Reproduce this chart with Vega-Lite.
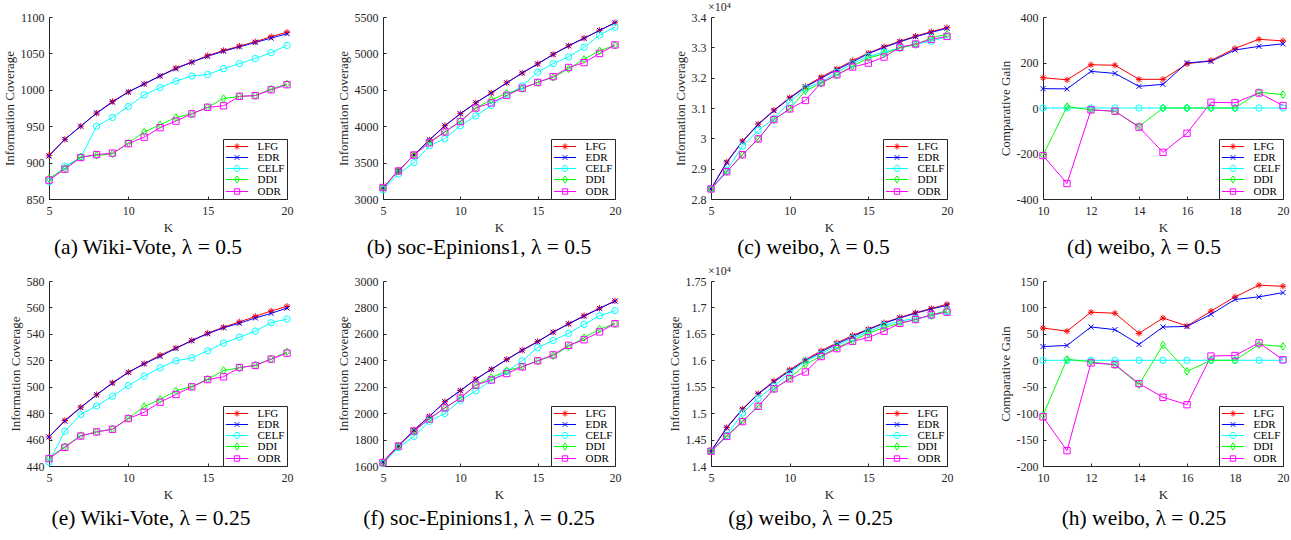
{
 "$schema": "https://vega.github.io/schema/vega-lite/v6.json",
 "background": "white",
 "padding": {"left": 3, "top": 1, "right": 1, "bottom": 2},
 "datasets": {
  "a": [
   {"K":5,"LFG":910,"EDR":909,"CELF":874,"DDI":878,"ODR":876},
   {"K":6,"LFG":932,"EDR":932,"CELF":895,"DDI":892,"ODR":891},
   {"K":7,"LFG":950,"EDR":950,"CELF":907,"DDI":908,"ODR":907},
   {"K":8,"LFG":968,"EDR":968,"CELF":950,"DDI":910,"ODR":911},
   {"K":9,"LFG":984,"EDR":983,"CELF":962,"DDI":912,"ODR":913},
   {"K":10,"LFG":997,"EDR":997,"CELF":977,"DDI":927,"ODR":926},
   {"K":11,"LFG":1008,"EDR":1008,"CELF":993,"DDI":942,"ODR":935},
   {"K":12,"LFG":1019,"EDR":1019,"CELF":1003,"DDI":952,"ODR":948},
   {"K":13,"LFG":1030,"EDR":1029,"CELF":1012,"DDI":962,"ODR":957},
   {"K":14,"LFG":1038,"EDR":1038,"CELF":1019,"DDI":967,"ODR":967},
   {"K":15,"LFG":1047,"EDR":1046,"CELF":1021,"DDI":976,"ODR":976},
   {"K":16,"LFG":1054,"EDR":1053,"CELF":1029,"DDI":988,"ODR":978},
   {"K":17,"LFG":1060,"EDR":1059,"CELF":1036,"DDI":991,"ODR":991},
   {"K":18,"LFG":1066,"EDR":1065,"CELF":1043,"DDI":992,"ODR":992},
   {"K":19,"LFG":1073,"EDR":1071,"CELF":1051,"DDI":1001,"ODR":1000},
   {"K":20,"LFG":1079,"EDR":1077,"CELF":1061,"DDI":1008,"ODR":1007}
  ],
  "b": [
   {"K":5,"LFG":3158,"EDR":3155,"CELF":3126,"DDI":3150,"ODR":3158},
   {"K":6,"LFG":3388,"EDR":3385,"CELF":3345,"DDI":3385,"ODR":3385},
   {"K":7,"LFG":3607,"EDR":3605,"CELF":3500,"DDI":3604,"ODR":3604},
   {"K":8,"LFG":3812,"EDR":3810,"CELF":3730,"DDI":3782,"ODR":3772},
   {"K":9,"LFG":4008,"EDR":4005,"CELF":3829,"DDI":3922,"ODR":3922},
   {"K":10,"LFG":4172,"EDR":4170,"CELF":4007,"DDI":4072,"ODR":4063},
   {"K":11,"LFG":4322,"EDR":4320,"CELF":4142,"DDI":4250,"ODR":4250},
   {"K":12,"LFG":4457,"EDR":4455,"CELF":4287,"DDI":4362,"ODR":4320},
   {"K":13,"LFG":4597,"EDR":4595,"CELF":4425,"DDI":4451,"ODR":4423},
   {"K":14,"LFG":4732,"EDR":4730,"CELF":4554,"DDI":4517,"ODR":4522},
   {"K":15,"LFG":4857,"EDR":4855,"CELF":4742,"DDI":4601,"ODR":4601},
   {"K":16,"LFG":4987,"EDR":4985,"CELF":4859,"DDI":4671,"ODR":4681},
   {"K":17,"LFG":5105,"EDR":5103,"CELF":4952,"DDI":4788,"ODR":4807},
   {"K":18,"LFG":5210,"EDR":5207,"CELF":5083,"DDI":4919,"ODR":4873},
   {"K":19,"LFG":5317,"EDR":5315,"CELF":5252,"DDI":5036,"ODR":4999},
   {"K":20,"LFG":5422,"EDR":5420,"CELF":5360,"DDI":5112,"ODR":5116}
  ],
  "c": [
   {"K":5,"LFG":28330,"EDR":28330,"CELF":28330,"DDI":28330,"ODR":28330},
   {"K":6,"LFG":29220,"EDR":29200,"CELF":28950,"DDI":28900,"ODR":28900},
   {"K":7,"LFG":29910,"EDR":29890,"CELF":29740,"DDI":29460,"ODR":29460},
   {"K":8,"LFG":30470,"EDR":30455,"CELF":30260,"DDI":29980,"ODR":29980},
   {"K":9,"LFG":30930,"EDR":30910,"CELF":30650,"DDI":30610,"ODR":30620},
   {"K":10,"LFG":31340,"EDR":31320,"CELF":31190,"DDI":30970,"ODR":30970},
   {"K":11,"LFG":31710,"EDR":31690,"CELF":31655,"DDI":31570,"ODR":31248},
   {"K":12,"LFG":32020,"EDR":31980,"CELF":31850,"DDI":31810,"ODR":31830},
   {"K":13,"LFG":32290,"EDR":32260,"CELF":32180,"DDI":32095,"ODR":32095},
   {"K":14,"LFG":32560,"EDR":32520,"CELF":32460,"DDI":32380,"ODR":32350},
   {"K":15,"LFG":32810,"EDR":32790,"CELF":32700,"DDI":32646,"ODR":32480},
   {"K":16,"LFG":33020,"EDR":33000,"CELF":32840,"DDI":32790,"ODR":32680},
   {"K":17,"LFG":33200,"EDR":33180,"CELF":32976,"DDI":32980,"ODR":33000},
   {"K":18,"LFG":33370,"EDR":33350,"CELF":33110,"DDI":33086,"ODR":33110},
   {"K":19,"LFG":33516,"EDR":33490,"CELF":33196,"DDI":33317,"ODR":33260},
   {"K":20,"LFG":33650,"EDR":33630,"CELF":33360,"DDI":33427,"ODR":33360}
  ],
  "d": [
   {"K":10,"LFG":133,"EDR":85,"CELF":0,"DDI":-208,"ODR":-209},
   {"K":11,"LFG":124,"EDR":84,"CELF":0,"DDI":6,"ODR":-332},
   {"K":12,"LFG":190,"EDR":161,"CELF":0,"DDI":-8,"ODR":-8},
   {"K":13,"LFG":188,"EDR":152,"CELF":0,"DDI":-15,"ODR":-14},
   {"K":14,"LFG":126,"EDR":95,"CELF":0,"DDI":-81,"ODR":-84},
   {"K":15,"LFG":126,"EDR":104,"CELF":0,"DDI":0,"ODR":-195},
   {"K":16,"LFG":194,"EDR":199,"CELF":0,"DDI":0,"ODR":-111},
   {"K":17,"LFG":209,"EDR":205,"CELF":0,"DDI":0,"ODR":25},
   {"K":18,"LFG":262,"EDR":255,"CELF":0,"DDI":0,"ODR":23},
   {"K":19,"LFG":302,"EDR":271,"CELF":0,"DDI":69,"ODR":66},
   {"K":20,"LFG":295,"EDR":282,"CELF":0,"DDI":59,"ODR":11}
  ],
  "e": [
   {"K":5,"LFG":462,"EDR":462,"CELF":443,"DDI":446,"ODR":445.6},
   {"K":6,"LFG":474.5,"EDR":474,"CELF":466.3,"DDI":454.7,"ODR":454.1},
   {"K":7,"LFG":484.5,"EDR":484.2,"CELF":479,"DDI":463,"ODR":462.7},
   {"K":8,"LFG":494,"EDR":493.8,"CELF":485.5,"DDI":465.8,"ODR":465.8},
   {"K":9,"LFG":503,"EDR":502.7,"CELF":492.8,"DDI":468,"ODR":467.8},
   {"K":10,"LFG":511,"EDR":510.8,"CELF":500.9,"DDI":476.1,"ODR":475.9},
   {"K":11,"LFG":517.5,"EDR":517.3,"CELF":508,"DDI":485,"ODR":480.7},
   {"K":12,"LFG":523.8,"EDR":523,"CELF":514.3,"DDI":490.3,"ODR":488.3},
   {"K":13,"LFG":529.3,"EDR":529,"CELF":519.6,"DDI":496.9,"ODR":494.1},
   {"K":14,"LFG":535,"EDR":534.8,"CELF":521.9,"DDI":500.1,"ODR":499.9},
   {"K":15,"LFG":540.5,"EDR":540.1,"CELF":527.2,"DDI":505.7,"ODR":505.4},
   {"K":16,"LFG":545,"EDR":544.6,"CELF":533,"DDI":512.3,"ODR":507.5},
   {"K":17,"LFG":549,"EDR":548,"CELF":537.5,"DDI":514.3,"ODR":514.5},
   {"K":18,"LFG":553.2,"EDR":552,"CELF":542.1,"DDI":516.3,"ODR":516.1},
   {"K":19,"LFG":557.3,"EDR":555.5,"CELF":548.4,"DDI":520.9,"ODR":520.9},
   {"K":20,"LFG":560.8,"EDR":559.5,"CELF":551.2,"DDI":526.4,"ODR":525.4}
  ],
  "f": [
   {"K":5,"LFG":1632,"EDR":1630,"CELF":1618,"DDI":1626,"ODR":1626},
   {"K":6,"LFG":1755,"EDR":1754,"CELF":1738,"DDI":1748,"ODR":1751},
   {"K":7,"LFG":1872,"EDR":1871,"CELF":1824,"DDI":1860,"ODR":1865},
   {"K":8,"LFG":1976,"EDR":1975,"CELF":1938,"DDI":1959,"ODR":1956},
   {"K":9,"LFG":2087,"EDR":2085,"CELF":1998,"DDI":2040,"ODR":2040},
   {"K":10,"LFG":2171,"EDR":2170,"CELF":2097,"DDI":2113,"ODR":2115},
   {"K":11,"LFG":2257,"EDR":2256,"CELF":2168,"DDI":2212,"ODR":2212},
   {"K":12,"LFG":2332,"EDR":2331,"CELF":2248,"DDI":2269,"ODR":2251},
   {"K":13,"LFG":2407,"EDR":2405,"CELF":2316,"DDI":2321,"ODR":2300},
   {"K":14,"LFG":2477,"EDR":2475,"CELF":2396,"DDI":2352,"ODR":2350},
   {"K":15,"LFG":2542,"EDR":2540,"CELF":2495,"DDI":2396,"ODR":2396},
   {"K":16,"LFG":2613,"EDR":2612,"CELF":2550,"DDI":2435,"ODR":2441},
   {"K":17,"LFG":2677,"EDR":2675,"CELF":2604,"DDI":2505,"ODR":2513},
   {"K":18,"LFG":2738,"EDR":2733,"CELF":2672,"DDI":2571,"ODR":2555},
   {"K":19,"LFG":2794,"EDR":2792,"CELF":2737,"DDI":2635,"ODR":2615},
   {"K":20,"LFG":2850,"EDR":2848,"CELF":2775,"DDI":2677,"ODR":2677}
  ],
  "g": [
   {"K":5,"LFG":14280,"EDR":14280,"CELF":14280,"DDI":14280,"ODR":14280},
   {"K":6,"LFG":14730,"EDR":14720,"CELF":14580,"DDI":14570,"ODR":14560},
   {"K":7,"LFG":15080,"EDR":15070,"CELF":15000,"DDI":14850,"ODR":14840},
   {"K":8,"LFG":15370,"EDR":15360,"CELF":15280,"DDI":15130,"ODR":15130},
   {"K":9,"LFG":15610,"EDR":15590,"CELF":15510,"DDI":15460,"ODR":15460},
   {"K":10,"LFG":15820,"EDR":15800,"CELF":15760,"DDI":15660,"ODR":15650},
   {"K":11,"LFG":16010,"EDR":15990,"CELF":15990,"DDI":15920,"ODR":15780},
   {"K":12,"LFG":16180,"EDR":16160,"CELF":16120,"DDI":16080,"ODR":16070},
   {"K":13,"LFG":16330,"EDR":16310,"CELF":16280,"DDI":16240,"ODR":16220},
   {"K":14,"LFG":16470,"EDR":16450,"CELF":16420,"DDI":16370,"ODR":16360},
   {"K":15,"LFG":16590,"EDR":16580,"CELF":16540,"DDI":16510,"ODR":16430},
   {"K":16,"LFG":16710,"EDR":16700,"CELF":16660,"DDI":16620,"ODR":16550},
   {"K":17,"LFG":16810,"EDR":16800,"CELF":16740,"DDI":16700,"ODR":16700},
   {"K":18,"LFG":16900,"EDR":16890,"CELF":16790,"DDI":16770,"ODR":16770},
   {"K":19,"LFG":16980,"EDR":16970,"CELF":16840,"DDI":16860,"ODR":16860},
   {"K":20,"LFG":17060,"EDR":17040,"CELF":16920,"DDI":16940,"ODR":16910}
  ],
  "h": [
   {"K":10,"LFG":61,"EDR":26,"CELF":0,"DDI":-104,"ODR":-107},
   {"K":11,"LFG":55,"EDR":28,"CELF":0,"DDI":2,"ODR":-171},
   {"K":12,"LFG":91,"EDR":63,"CELF":0,"DDI":-3,"ODR":-5},
   {"K":13,"LFG":89,"EDR":58,"CELF":0,"DDI":-9,"ODR":-8},
   {"K":14,"LFG":51,"EDR":30,"CELF":0,"DDI":-46,"ODR":-44},
   {"K":15,"LFG":80,"EDR":63,"CELF":0,"DDI":29,"ODR":-70},
   {"K":16,"LFG":65,"EDR":64,"CELF":0,"DDI":-21,"ODR":-84},
   {"K":17,"LFG":93,"EDR":87,"CELF":0,"DDI":0,"ODR":8},
   {"K":18,"LFG":120,"EDR":115,"CELF":0,"DDI":0,"ODR":9},
   {"K":19,"LFG":142,"EDR":120,"CELF":0,"DDI":30,"ODR":33},
   {"K":20,"LFG":140,"EDR":128,"CELF":0,"DDI":26,"ODR":1}
  ]
 },
 "columns": 4,
 "spacing": {"row": 82, "column": 96},
 "bounds": "flush",
 "resolve": {"scale": {"color": "independent"}, "legend": {"color": "independent"}},
 "concat": [
  {
   "width": 238, "height": 182,
   "data": {"name": "a"},
   "transform": [{"fold": ["LFG","EDR","CELF","DDI","ODR"], "as": ["series","value"]}],
   "title": {"text": "(a) Wiki-Vote, λ = 0.5", "offset": 3},
   "encoding": {
    "x": {"field": "K", "type": "quantitative", "scale": {"domain": [5,20], "nice": false}, "axis": {"values": [5,10,15,20], "title": "K"}},
    "y": {"field": "value", "type": "quantitative", "scale": {"domain": [850,1100], "nice": false, "zero": false}, "axis": {"values": [850,900,950,1000,1050,1100], "format": "d", "title": "Information Coverage"}},
    "color": {"field": "series", "type": "nominal", "scale": {"domain": ["LFG","EDR","CELF","DDI","ODR"], "range": ["#ff0000","#0000ff","#00ffff","#00ff00","#ff00ff"]}, "legend": {"title": null, "encode": {"symbols": {"update": {"shape": [{"test": "datum.value === 'LFG'", "value": "M-3.7,0L3.7,0M-1,0L1,0M0,-1L0,1M-0.7,-0.7L0.7,0.7M-0.7,0.7L0.7,-0.7"}, {"test": "datum.value === 'EDR'", "value": "M-3.7,0L3.7,0M-0.8,-0.8L0.8,0.8M-0.8,0.8L0.8,-0.8"}, {"test": "datum.value === 'CELF'", "value": "M-3.7,0L3.7,0M1,0A1,1,0,1,1,-1,0A1,1,0,1,1,1,0"}, {"test": "datum.value === 'DDI'", "value": "M-3.7,0L3.7,0M0,-1.2L0.8,0L0,1.2L-0.8,0Z"}, {"value": "M-3.7,0L3.7,0M-0.9,-0.9L0.9,-0.9L0.9,0.9L-0.9,0.9Z"}], "fill": {"value": "transparent"}}}}}}
   },
   "layer": [
    {"mark": {"type": "line", "strokeWidth": 1}},
    {"transform": [{"filter": "datum.series === 'LFG'"}], "mark": {"type": "point", "shape": "M-1,0L1,0M0,-1L0,1M-0.7,-0.7L0.7,0.7M-0.7,0.7L0.7,-0.7", "filled": false, "size": 40, "strokeWidth": 1, "opacity": 1}},
    {"transform": [{"filter": "datum.series === 'EDR'"}], "mark": {"type": "point", "shape": "M-0.8,-0.8L0.8,0.8M-0.8,0.8L0.8,-0.8", "filled": false, "size": 40, "strokeWidth": 1, "opacity": 1}},
    {"transform": [{"filter": "datum.series === 'CELF'"}], "mark": {"type": "point", "shape": "circle", "filled": false, "size": 40, "strokeWidth": 1, "opacity": 1}},
    {"transform": [{"filter": "datum.series === 'DDI'"}], "mark": {"type": "point", "shape": "M0,-1.2L0.8,0L0,1.2L-0.8,0Z", "filled": false, "size": 40, "strokeWidth": 1, "opacity": 1}},
    {"transform": [{"filter": "datum.series === 'ODR'"}], "mark": {"type": "point", "shape": "square", "filled": false, "size": 40, "strokeWidth": 1, "opacity": 1}}
   ]
  },
  {
   "width": 232, "height": 182,
   "data": {"name": "b"},
   "transform": [{"fold": ["LFG","EDR","CELF","DDI","ODR"], "as": ["series","value"]}],
   "title": {"text": "(b) soc-Epinions1, λ = 0.5", "offset": 3},
   "encoding": {
    "x": {"field": "K", "type": "quantitative", "scale": {"domain": [5,20], "nice": false}, "axis": {"values": [5,10,15,20], "title": "K"}},
    "y": {"field": "value", "type": "quantitative", "scale": {"domain": [3000,5500], "nice": false, "zero": false}, "axis": {"values": [3000,3500,4000,4500,5000,5500], "format": "d", "title": "Information Coverage"}},
    "color": {"field": "series", "type": "nominal", "scale": {"domain": ["LFG","EDR","CELF","DDI","ODR"], "range": ["#ff0000","#0000ff","#00ffff","#00ff00","#ff00ff"]}, "legend": {"title": null, "encode": {"symbols": {"update": {"shape": [{"test": "datum.value === 'LFG'", "value": "M-3.7,0L3.7,0M-1,0L1,0M0,-1L0,1M-0.7,-0.7L0.7,0.7M-0.7,0.7L0.7,-0.7"}, {"test": "datum.value === 'EDR'", "value": "M-3.7,0L3.7,0M-0.8,-0.8L0.8,0.8M-0.8,0.8L0.8,-0.8"}, {"test": "datum.value === 'CELF'", "value": "M-3.7,0L3.7,0M1,0A1,1,0,1,1,-1,0A1,1,0,1,1,1,0"}, {"test": "datum.value === 'DDI'", "value": "M-3.7,0L3.7,0M0,-1.2L0.8,0L0,1.2L-0.8,0Z"}, {"value": "M-3.7,0L3.7,0M-0.9,-0.9L0.9,-0.9L0.9,0.9L-0.9,0.9Z"}], "fill": {"value": "transparent"}}}}}}
   },
   "layer": [
    {"mark": {"type": "line", "strokeWidth": 1}},
    {"transform": [{"filter": "datum.series === 'LFG'"}], "mark": {"type": "point", "shape": "M-1,0L1,0M0,-1L0,1M-0.7,-0.7L0.7,0.7M-0.7,0.7L0.7,-0.7", "filled": false, "size": 40, "strokeWidth": 1, "opacity": 1}},
    {"transform": [{"filter": "datum.series === 'EDR'"}], "mark": {"type": "point", "shape": "M-0.8,-0.8L0.8,0.8M-0.8,0.8L0.8,-0.8", "filled": false, "size": 40, "strokeWidth": 1, "opacity": 1}},
    {"transform": [{"filter": "datum.series === 'CELF'"}], "mark": {"type": "point", "shape": "circle", "filled": false, "size": 40, "strokeWidth": 1, "opacity": 1}},
    {"transform": [{"filter": "datum.series === 'DDI'"}], "mark": {"type": "point", "shape": "M0,-1.2L0.8,0L0,1.2L-0.8,0Z", "filled": false, "size": 40, "strokeWidth": 1, "opacity": 1}},
    {"transform": [{"filter": "datum.series === 'ODR'"}], "mark": {"type": "point", "shape": "square", "filled": false, "size": 40, "strokeWidth": 1, "opacity": 1}}
   ]
  },
  {
   "width": 236, "height": 182,
   "data": {"name": "c"},
   "transform": [{"fold": ["LFG","EDR","CELF","DDI","ODR"], "as": ["series","value"]}],
   "title": {"text": "(c) weibo, λ = 0.5", "offset": 3},
   "encoding": {
    "x": {"field": "K", "type": "quantitative", "scale": {"domain": [5,20], "nice": false}, "axis": {"values": [5,10,15,20], "title": "K"}},
    "y": {"field": "value", "type": "quantitative", "scale": {"domain": [28000,34000], "nice": false, "zero": false}, "axis": {"values": [28000,29000,30000,31000,32000,33000,34000], "labelExpr": "format(datum.value/10000, '.2~f')", "title": "Information Coverage"}},
    "color": {"field": "series", "type": "nominal", "scale": {"domain": ["LFG","EDR","CELF","DDI","ODR"], "range": ["#ff0000","#0000ff","#00ffff","#00ff00","#ff00ff"]}, "legend": {"title": null, "encode": {"symbols": {"update": {"shape": [{"test": "datum.value === 'LFG'", "value": "M-3.7,0L3.7,0M-1,0L1,0M0,-1L0,1M-0.7,-0.7L0.7,0.7M-0.7,0.7L0.7,-0.7"}, {"test": "datum.value === 'EDR'", "value": "M-3.7,0L3.7,0M-0.8,-0.8L0.8,0.8M-0.8,0.8L0.8,-0.8"}, {"test": "datum.value === 'CELF'", "value": "M-3.7,0L3.7,0M1,0A1,1,0,1,1,-1,0A1,1,0,1,1,1,0"}, {"test": "datum.value === 'DDI'", "value": "M-3.7,0L3.7,0M0,-1.2L0.8,0L0,1.2L-0.8,0Z"}, {"value": "M-3.7,0L3.7,0M-0.9,-0.9L0.9,-0.9L0.9,0.9L-0.9,0.9Z"}], "fill": {"value": "transparent"}}}}}}
   },
   "layer": [
    {"mark": {"type": "line", "strokeWidth": 1}},
    {"transform": [{"filter": "datum.series === 'LFG'"}], "mark": {"type": "point", "shape": "M-1,0L1,0M0,-1L0,1M-0.7,-0.7L0.7,0.7M-0.7,0.7L0.7,-0.7", "filled": false, "size": 40, "strokeWidth": 1, "opacity": 1}},
    {"transform": [{"filter": "datum.series === 'EDR'"}], "mark": {"type": "point", "shape": "M-0.8,-0.8L0.8,0.8M-0.8,0.8L0.8,-0.8", "filled": false, "size": 40, "strokeWidth": 1, "opacity": 1}},
    {"transform": [{"filter": "datum.series === 'CELF'"}], "mark": {"type": "point", "shape": "circle", "filled": false, "size": 40, "strokeWidth": 1, "opacity": 1}},
    {"transform": [{"filter": "datum.series === 'DDI'"}], "mark": {"type": "point", "shape": "M0,-1.2L0.8,0L0,1.2L-0.8,0Z", "filled": false, "size": 40, "strokeWidth": 1, "opacity": 1}},
    {"transform": [{"filter": "datum.series === 'ODR'"}], "mark": {"type": "point", "shape": "square", "filled": false, "size": 40, "strokeWidth": 1, "opacity": 1}},
    {"transform": [{"filter": "datum.K === 5 && datum.series === 'LFG'"}], "mark": {"type": "text", "align": "left", "baseline": "bottom", "dx": -3, "dy": -3, "font": "Liberation Serif", "fontSize": 12}, "encoding": {"x": {"datum": 5, "type": "quantitative"}, "y": {"datum": 34000, "type": "quantitative"}, "text": {"value": "×10⁴"}, "color": {"value": "#262626"}}}
   ]
  },
  {
   "width": 240, "height": 182,
   "data": {"name": "d"},
   "transform": [{"fold": ["LFG","EDR","CELF","DDI","ODR"], "as": ["series","value"]}],
   "title": {"text": "(d) weibo, λ = 0.5", "offset": 3},
   "encoding": {
    "x": {"field": "K", "type": "quantitative", "scale": {"domain": [10,20], "nice": false}, "axis": {"values": [10,12,14,16,18,20], "title": "K"}},
    "y": {"field": "value", "type": "quantitative", "scale": {"domain": [-400,400], "nice": false, "zero": false}, "axis": {"values": [-400,-200,0,200,400], "labelExpr": "'' + datum.value", "title": "Comparative Gain"}},
    "color": {"field": "series", "type": "nominal", "scale": {"domain": ["LFG","EDR","CELF","DDI","ODR"], "range": ["#ff0000","#0000ff","#00ffff","#00ff00","#ff00ff"]}, "legend": {"title": null, "encode": {"symbols": {"update": {"shape": [{"test": "datum.value === 'LFG'", "value": "M-3.7,0L3.7,0M-1,0L1,0M0,-1L0,1M-0.7,-0.7L0.7,0.7M-0.7,0.7L0.7,-0.7"}, {"test": "datum.value === 'EDR'", "value": "M-3.7,0L3.7,0M-0.8,-0.8L0.8,0.8M-0.8,0.8L0.8,-0.8"}, {"test": "datum.value === 'CELF'", "value": "M-3.7,0L3.7,0M1,0A1,1,0,1,1,-1,0A1,1,0,1,1,1,0"}, {"test": "datum.value === 'DDI'", "value": "M-3.7,0L3.7,0M0,-1.2L0.8,0L0,1.2L-0.8,0Z"}, {"value": "M-3.7,0L3.7,0M-0.9,-0.9L0.9,-0.9L0.9,0.9L-0.9,0.9Z"}], "fill": {"value": "transparent"}}}}}}
   },
   "layer": [
    {"mark": {"type": "line", "strokeWidth": 1}},
    {"transform": [{"filter": "datum.series === 'LFG'"}], "mark": {"type": "point", "shape": "M-1,0L1,0M0,-1L0,1M-0.7,-0.7L0.7,0.7M-0.7,0.7L0.7,-0.7", "filled": false, "size": 40, "strokeWidth": 1, "opacity": 1}},
    {"transform": [{"filter": "datum.series === 'EDR'"}], "mark": {"type": "point", "shape": "M-0.8,-0.8L0.8,0.8M-0.8,0.8L0.8,-0.8", "filled": false, "size": 40, "strokeWidth": 1, "opacity": 1}},
    {"transform": [{"filter": "datum.series === 'CELF'"}], "mark": {"type": "point", "shape": "circle", "filled": false, "size": 40, "strokeWidth": 1, "opacity": 1}},
    {"transform": [{"filter": "datum.series === 'DDI'"}], "mark": {"type": "point", "shape": "M0,-1.2L0.8,0L0,1.2L-0.8,0Z", "filled": false, "size": 40, "strokeWidth": 1, "opacity": 1}},
    {"transform": [{"filter": "datum.series === 'ODR'"}], "mark": {"type": "point", "shape": "square", "filled": false, "size": 40, "strokeWidth": 1, "opacity": 1}}
   ]
  },
  {
   "width": 238, "height": 185,
   "data": {"name": "e"},
   "transform": [{"fold": ["LFG","EDR","CELF","DDI","ODR"], "as": ["series","value"]}],
   "title": {"text": "(e) Wiki-Vote, λ = 0.25", "offset": 7},
   "encoding": {
    "x": {"field": "K", "type": "quantitative", "scale": {"domain": [5,20], "nice": false}, "axis": {"values": [5,10,15,20], "title": "K"}},
    "y": {"field": "value", "type": "quantitative", "scale": {"domain": [440,580], "nice": false, "zero": false}, "axis": {"values": [440,460,480,500,520,540,560,580], "format": "d", "title": "Information Coverage"}},
    "color": {"field": "series", "type": "nominal", "scale": {"domain": ["LFG","EDR","CELF","DDI","ODR"], "range": ["#ff0000","#0000ff","#00ffff","#00ff00","#ff00ff"]}, "legend": {"title": null, "encode": {"symbols": {"update": {"shape": [{"test": "datum.value === 'LFG'", "value": "M-3.7,0L3.7,0M-1,0L1,0M0,-1L0,1M-0.7,-0.7L0.7,0.7M-0.7,0.7L0.7,-0.7"}, {"test": "datum.value === 'EDR'", "value": "M-3.7,0L3.7,0M-0.8,-0.8L0.8,0.8M-0.8,0.8L0.8,-0.8"}, {"test": "datum.value === 'CELF'", "value": "M-3.7,0L3.7,0M1,0A1,1,0,1,1,-1,0A1,1,0,1,1,1,0"}, {"test": "datum.value === 'DDI'", "value": "M-3.7,0L3.7,0M0,-1.2L0.8,0L0,1.2L-0.8,0Z"}, {"value": "M-3.7,0L3.7,0M-0.9,-0.9L0.9,-0.9L0.9,0.9L-0.9,0.9Z"}], "fill": {"value": "transparent"}}}}}}
   },
   "layer": [
    {"mark": {"type": "line", "strokeWidth": 1}},
    {"transform": [{"filter": "datum.series === 'LFG'"}], "mark": {"type": "point", "shape": "M-1,0L1,0M0,-1L0,1M-0.7,-0.7L0.7,0.7M-0.7,0.7L0.7,-0.7", "filled": false, "size": 40, "strokeWidth": 1, "opacity": 1}},
    {"transform": [{"filter": "datum.series === 'EDR'"}], "mark": {"type": "point", "shape": "M-0.8,-0.8L0.8,0.8M-0.8,0.8L0.8,-0.8", "filled": false, "size": 40, "strokeWidth": 1, "opacity": 1}},
    {"transform": [{"filter": "datum.series === 'CELF'"}], "mark": {"type": "point", "shape": "circle", "filled": false, "size": 40, "strokeWidth": 1, "opacity": 1}},
    {"transform": [{"filter": "datum.series === 'DDI'"}], "mark": {"type": "point", "shape": "M0,-1.2L0.8,0L0,1.2L-0.8,0Z", "filled": false, "size": 40, "strokeWidth": 1, "opacity": 1}},
    {"transform": [{"filter": "datum.series === 'ODR'"}], "mark": {"type": "point", "shape": "square", "filled": false, "size": 40, "strokeWidth": 1, "opacity": 1}}
   ]
  },
  {
   "width": 232, "height": 185,
   "data": {"name": "f"},
   "transform": [{"fold": ["LFG","EDR","CELF","DDI","ODR"], "as": ["series","value"]}],
   "title": {"text": "(f) soc-Epinions1, λ = 0.25", "offset": 7},
   "encoding": {
    "x": {"field": "K", "type": "quantitative", "scale": {"domain": [5,20], "nice": false}, "axis": {"values": [5,10,15,20], "title": "K"}},
    "y": {"field": "value", "type": "quantitative", "scale": {"domain": [1600,3000], "nice": false, "zero": false}, "axis": {"values": [1600,1800,2000,2200,2400,2600,2800,3000], "format": "d", "title": "Information Coverage"}},
    "color": {"field": "series", "type": "nominal", "scale": {"domain": ["LFG","EDR","CELF","DDI","ODR"], "range": ["#ff0000","#0000ff","#00ffff","#00ff00","#ff00ff"]}, "legend": {"title": null, "encode": {"symbols": {"update": {"shape": [{"test": "datum.value === 'LFG'", "value": "M-3.7,0L3.7,0M-1,0L1,0M0,-1L0,1M-0.7,-0.7L0.7,0.7M-0.7,0.7L0.7,-0.7"}, {"test": "datum.value === 'EDR'", "value": "M-3.7,0L3.7,0M-0.8,-0.8L0.8,0.8M-0.8,0.8L0.8,-0.8"}, {"test": "datum.value === 'CELF'", "value": "M-3.7,0L3.7,0M1,0A1,1,0,1,1,-1,0A1,1,0,1,1,1,0"}, {"test": "datum.value === 'DDI'", "value": "M-3.7,0L3.7,0M0,-1.2L0.8,0L0,1.2L-0.8,0Z"}, {"value": "M-3.7,0L3.7,0M-0.9,-0.9L0.9,-0.9L0.9,0.9L-0.9,0.9Z"}], "fill": {"value": "transparent"}}}}}}
   },
   "layer": [
    {"mark": {"type": "line", "strokeWidth": 1}},
    {"transform": [{"filter": "datum.series === 'LFG'"}], "mark": {"type": "point", "shape": "M-1,0L1,0M0,-1L0,1M-0.7,-0.7L0.7,0.7M-0.7,0.7L0.7,-0.7", "filled": false, "size": 40, "strokeWidth": 1, "opacity": 1}},
    {"transform": [{"filter": "datum.series === 'EDR'"}], "mark": {"type": "point", "shape": "M-0.8,-0.8L0.8,0.8M-0.8,0.8L0.8,-0.8", "filled": false, "size": 40, "strokeWidth": 1, "opacity": 1}},
    {"transform": [{"filter": "datum.series === 'CELF'"}], "mark": {"type": "point", "shape": "circle", "filled": false, "size": 40, "strokeWidth": 1, "opacity": 1}},
    {"transform": [{"filter": "datum.series === 'DDI'"}], "mark": {"type": "point", "shape": "M0,-1.2L0.8,0L0,1.2L-0.8,0Z", "filled": false, "size": 40, "strokeWidth": 1, "opacity": 1}},
    {"transform": [{"filter": "datum.series === 'ODR'"}], "mark": {"type": "point", "shape": "square", "filled": false, "size": 40, "strokeWidth": 1, "opacity": 1}}
   ]
  },
  {
   "width": 236, "height": 185,
   "data": {"name": "g"},
   "transform": [{"fold": ["LFG","EDR","CELF","DDI","ODR"], "as": ["series","value"]}],
   "title": {"text": "(g) weibo, λ = 0.25", "offset": 7},
   "encoding": {
    "x": {"field": "K", "type": "quantitative", "scale": {"domain": [5,20], "nice": false}, "axis": {"values": [5,10,15,20], "title": "K"}},
    "y": {"field": "value", "type": "quantitative", "scale": {"domain": [14000,17500], "nice": false, "zero": false}, "axis": {"values": [14000,14500,15000,15500,16000,16500,17000,17500], "labelExpr": "format(datum.value/10000, '.2~f')", "title": "Information Coverage"}},
    "color": {"field": "series", "type": "nominal", "scale": {"domain": ["LFG","EDR","CELF","DDI","ODR"], "range": ["#ff0000","#0000ff","#00ffff","#00ff00","#ff00ff"]}, "legend": {"title": null, "encode": {"symbols": {"update": {"shape": [{"test": "datum.value === 'LFG'", "value": "M-3.7,0L3.7,0M-1,0L1,0M0,-1L0,1M-0.7,-0.7L0.7,0.7M-0.7,0.7L0.7,-0.7"}, {"test": "datum.value === 'EDR'", "value": "M-3.7,0L3.7,0M-0.8,-0.8L0.8,0.8M-0.8,0.8L0.8,-0.8"}, {"test": "datum.value === 'CELF'", "value": "M-3.7,0L3.7,0M1,0A1,1,0,1,1,-1,0A1,1,0,1,1,1,0"}, {"test": "datum.value === 'DDI'", "value": "M-3.7,0L3.7,0M0,-1.2L0.8,0L0,1.2L-0.8,0Z"}, {"value": "M-3.7,0L3.7,0M-0.9,-0.9L0.9,-0.9L0.9,0.9L-0.9,0.9Z"}], "fill": {"value": "transparent"}}}}}}
   },
   "layer": [
    {"mark": {"type": "line", "strokeWidth": 1}},
    {"transform": [{"filter": "datum.series === 'LFG'"}], "mark": {"type": "point", "shape": "M-1,0L1,0M0,-1L0,1M-0.7,-0.7L0.7,0.7M-0.7,0.7L0.7,-0.7", "filled": false, "size": 40, "strokeWidth": 1, "opacity": 1}},
    {"transform": [{"filter": "datum.series === 'EDR'"}], "mark": {"type": "point", "shape": "M-0.8,-0.8L0.8,0.8M-0.8,0.8L0.8,-0.8", "filled": false, "size": 40, "strokeWidth": 1, "opacity": 1}},
    {"transform": [{"filter": "datum.series === 'CELF'"}], "mark": {"type": "point", "shape": "circle", "filled": false, "size": 40, "strokeWidth": 1, "opacity": 1}},
    {"transform": [{"filter": "datum.series === 'DDI'"}], "mark": {"type": "point", "shape": "M0,-1.2L0.8,0L0,1.2L-0.8,0Z", "filled": false, "size": 40, "strokeWidth": 1, "opacity": 1}},
    {"transform": [{"filter": "datum.series === 'ODR'"}], "mark": {"type": "point", "shape": "square", "filled": false, "size": 40, "strokeWidth": 1, "opacity": 1}},
    {"transform": [{"filter": "datum.K === 5 && datum.series === 'LFG'"}], "mark": {"type": "text", "align": "left", "baseline": "bottom", "dx": -3, "dy": -3, "font": "Liberation Serif", "fontSize": 12}, "encoding": {"x": {"datum": 5, "type": "quantitative"}, "y": {"datum": 17500, "type": "quantitative"}, "text": {"value": "×10⁴"}, "color": {"value": "#262626"}}}
   ]
  },
  {
   "width": 240, "height": 185,
   "data": {"name": "h"},
   "transform": [{"fold": ["LFG","EDR","CELF","DDI","ODR"], "as": ["series","value"]}],
   "title": {"text": "(h) weibo, λ = 0.25", "offset": 7},
   "encoding": {
    "x": {"field": "K", "type": "quantitative", "scale": {"domain": [10,20], "nice": false}, "axis": {"values": [10,12,14,16,18,20], "title": "K"}},
    "y": {"field": "value", "type": "quantitative", "scale": {"domain": [-200,150], "nice": false, "zero": false}, "axis": {"values": [-200,-150,-100,-50,0,50,100,150], "labelExpr": "'' + datum.value", "title": "Comparative Gain"}},
    "color": {"field": "series", "type": "nominal", "scale": {"domain": ["LFG","EDR","CELF","DDI","ODR"], "range": ["#ff0000","#0000ff","#00ffff","#00ff00","#ff00ff"]}, "legend": {"title": null, "encode": {"symbols": {"update": {"shape": [{"test": "datum.value === 'LFG'", "value": "M-3.7,0L3.7,0M-1,0L1,0M0,-1L0,1M-0.7,-0.7L0.7,0.7M-0.7,0.7L0.7,-0.7"}, {"test": "datum.value === 'EDR'", "value": "M-3.7,0L3.7,0M-0.8,-0.8L0.8,0.8M-0.8,0.8L0.8,-0.8"}, {"test": "datum.value === 'CELF'", "value": "M-3.7,0L3.7,0M1,0A1,1,0,1,1,-1,0A1,1,0,1,1,1,0"}, {"test": "datum.value === 'DDI'", "value": "M-3.7,0L3.7,0M0,-1.2L0.8,0L0,1.2L-0.8,0Z"}, {"value": "M-3.7,0L3.7,0M-0.9,-0.9L0.9,-0.9L0.9,0.9L-0.9,0.9Z"}], "fill": {"value": "transparent"}}}}}}
   },
   "layer": [
    {"mark": {"type": "line", "strokeWidth": 1}},
    {"transform": [{"filter": "datum.series === 'LFG'"}], "mark": {"type": "point", "shape": "M-1,0L1,0M0,-1L0,1M-0.7,-0.7L0.7,0.7M-0.7,0.7L0.7,-0.7", "filled": false, "size": 40, "strokeWidth": 1, "opacity": 1}},
    {"transform": [{"filter": "datum.series === 'EDR'"}], "mark": {"type": "point", "shape": "M-0.8,-0.8L0.8,0.8M-0.8,0.8L0.8,-0.8", "filled": false, "size": 40, "strokeWidth": 1, "opacity": 1}},
    {"transform": [{"filter": "datum.series === 'CELF'"}], "mark": {"type": "point", "shape": "circle", "filled": false, "size": 40, "strokeWidth": 1, "opacity": 1}},
    {"transform": [{"filter": "datum.series === 'DDI'"}], "mark": {"type": "point", "shape": "M0,-1.2L0.8,0L0,1.2L-0.8,0Z", "filled": false, "size": 40, "strokeWidth": 1, "opacity": 1}},
    {"transform": [{"filter": "datum.series === 'ODR'"}], "mark": {"type": "point", "shape": "square", "filled": false, "size": 40, "strokeWidth": 1, "opacity": 1}}
   ]
  }
 ],
 "config": {
  "view": {"stroke": null},
  "font": "Liberation Serif",
  "axis": {"labelFont": "Liberation Serif", "titleFont": "Liberation Serif", "labelFontSize": 12, "titleFontSize": 13, "titleFontWeight": "normal", "labelColor": "#262626", "titleColor": "#262626", "domainColor": "#262626", "tickColor": "#262626", "grid": false, "tickSize": -3, "labelPadding": 8, "labelFlush": false, "labelOverlap": false},
  "axisX": {"labelPadding": 9, "titlePadding": 5},
  "axisY": {"titlePadding": 4},
  "legend": {"orient": "bottom-right", "offset": 0, "padding": 2, "strokeColor": "#262626", "fillColor": "white", "labelFont": "Liberation Serif", "labelFontSize": 11, "labelColor": "#000000", "symbolSize": 36, "symbolStrokeWidth": 1, "symbolOpacity": 1, "symbolOffset": 6.5, "labelOffset": 15, "rowPadding": -1, "cornerRadius": 0},
  "title": {"font": "Liberation Serif", "fontSize": 21.5, "fontWeight": "normal", "color": "#000000", "orient": "bottom", "anchor": "middle", "frame": "bounds", "offset": 5}
 }
}
